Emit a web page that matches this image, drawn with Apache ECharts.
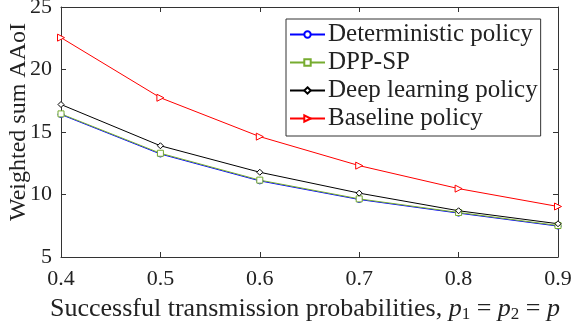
<!DOCTYPE html>
<html>
<head>
<meta charset="utf-8">
<script src="https://cdn.jsdelivr.net/npm/echarts@6/dist/echarts.min.js"></script>
<style>
  html, body { margin: 0; padding: 0; background: #fff; }
  #chart { width: 574px; height: 324px; }
</style>
</head>
<body>
<div id="chart"></div>
<script>
const SERIF = "'Liberation Serif', serif";

// success probability p on the x axis
const probs = [0.4, 0.5, 0.6, 0.7, 0.8, 0.9];
const deterministic = [16.4, 13.24, 11.09, 9.6, 8.51, 7.47];
const dppSp = [16.45, 13.3, 11.15, 9.65, 8.56, 7.52];
const deepLearning = [17.2, 13.9, 11.78, 10.11, 8.7, 7.66];
const baseline = [22.55, 17.74, 14.63, 12.31, 10.47, 9.04];

const names = ["Deterministic policy", "DPP-SP", "Deep learning policy", "Baseline policy"];
const yTitle = "Weighted sum AAoI";

const chart = echarts.init(document.getElementById("chart"), null, { renderer: "canvas" });

const pair = (ys) => probs.map((x, i) => [x, ys[i]]);

function line(name, ys, color, symbol, size, extra) {
  return Object.assign({
    name,
    type: "line",
    data: pair(ys),
    symbol,
    symbolSize: size,
    showAllSymbol: true,
    lineStyle: { color, width: 1 },
    itemStyle: { color: "#fff", borderColor: color, borderWidth: 1 },
    animation: false,
  }, extra || {});
}

const txt = (size) => ({ fontFamily: SERIF, fontSize: size, color: "#222" });
const axisLine = { show: true, lineStyle: { color: "#333", width: 1 } };
const tick = { show: true, inside: true, length: 5, lineStyle: { color: "#333" } };

chart.setOption({
  backgroundColor: "#fff",
  textStyle: { fontFamily: SERIF },
  grid: { left: 61, right: 16, top: 7, bottom: 67, outerBoundsMode: "none" },
  // y title placed by hand so it sits where the MATLAB label does
  graphic: [{
    type: "text",
    x: 19, y: 122,
    rotation: Math.PI / 2,
    style: { text: yTitle, font: "24px " + SERIF, fill: "#222", align: "center", verticalAlign: "middle" },
  }],
  legend: {
    orient: "vertical",
    left: 286,
    top: 19,
    backgroundColor: "#fff",
    borderColor: "#333",
    borderWidth: 1,
    borderRadius: 0,
    padding: [3, 3, 5, 3],
    itemGap: 3,
    itemWidth: 35,
    itemHeight: 8,
    textStyle: Object.assign(txt(25), { padding: [0, 0, 0, -2] }),
    data: names,
  },
  xAxis: [
    {
      type: "value",
      min: 0.4, max: 0.9, interval: 0.1,
      name: "{r|Successful transmission probabilities, }{i|p}{s|1}{r| = }{i|p}{s|2}{r| = }{i|p}",
      nameLocation: "middle",
      nameGap: 38,
      nameTextStyle: Object.assign(txt(26), {
        padding: [0, 9, 0, 0],
        rich: {
          r: Object.assign(txt(26), { lineHeight: 28 }),
          i: Object.assign(txt(26), { fontStyle: "italic", lineHeight: 28 }),
          s: Object.assign(txt(17), { lineHeight: 28, verticalAlign: "bottom" }),
        },
      }),
      axisLine, axisTick: tick,
      axisLabel: Object.assign(txt(22), { margin: 11, formatter: (v) => v.toFixed(1) }),
      splitLine: { show: false },
    },
    {
      type: "value", position: "top",
      min: 0.4, max: 0.9, interval: 0.1,
      axisLine, axisTick: tick, axisLabel: { show: false }, splitLine: { show: false },
    },
  ],
  yAxis: [
    {
      type: "value",
      min: 5, max: 25, interval: 5,
      axisLine, axisTick: tick,
      axisLabel: Object.assign(txt(22), { margin: 9 }),
      splitLine: { show: false },
    },
    {
      type: "value", position: "right",
      min: 5, max: 25, interval: 5,
      axisLine, axisTick: tick, axisLabel: { show: false }, splitLine: { show: false },
    },
  ],
  series: [
    line(names[0], deterministic, "#0000ff", "circle", 6),
    line(names[1], dppSp, "#77ac30", "rect", 6),
    line(names[2], deepLearning, "#000000", "diamond", 6),
    line(names[3], baseline, "#ff0000", "triangle", 7, { symbolRotate: -90 }),
  ],
});
</script>
</body>
</html>
